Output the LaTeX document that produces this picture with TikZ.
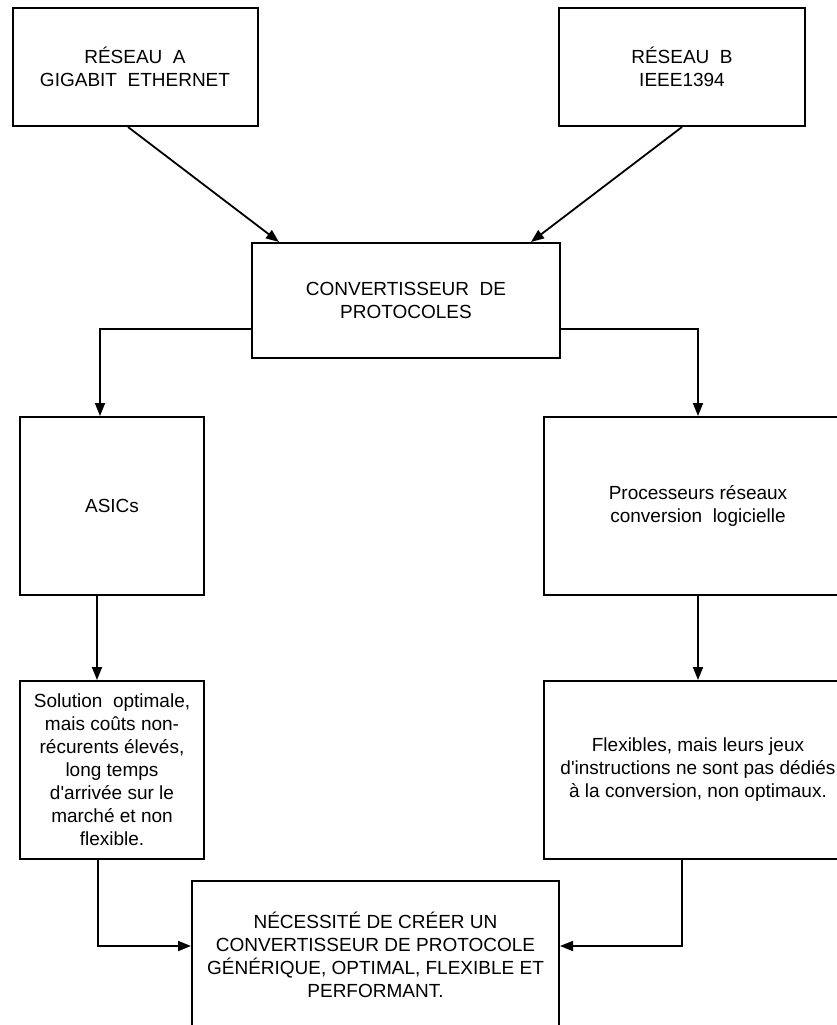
\documentclass[tikz,border=0pt]{standalone}
\usepackage{fontspec}
\setmainfont{Liberation Sans}
\usetikzlibrary{arrows.meta}
\begin{document}
\begin{tikzpicture}[x=1pt,y=-1pt,>={Triangle[length=13pt,width=10pt]},
  boite/.style={draw,line width=2pt,align=center,inner sep=0pt,
    font=\fontsize{19}{23}\selectfont},
  fleche/.style={->,line width=1.8pt}]
  \useasboundingbox (0,0) rectangle (837,1025);
  \clip (0,0) rectangle (837,1025);
  % reseaux
  \node[boite,minimum width=245pt,minimum height=118pt] (reseauA) at (135,67)
    {RÉSEAU~~A\\GIGABIT~~ETHERNET};
  \node[boite,minimum width=246pt,minimum height=118pt] (reseauB) at (682,67)
    {RÉSEAU~~B\\IEEE1394};
  % convertisseur
  \node[boite,minimum width=308pt,minimum height=115pt] (conv) at (406,300.5)
    {CONVERTISSEUR~~DE\\PROTOCOLES};
  % deux solutions
  \node[boite,minimum width=184pt,minimum height=178pt] (asics) at (112,506) {ASICs};
  \node[boite,minimum width=308pt,minimum height=178pt] (proc) at (698,506)
    {Processeurs réseaux\\conversion~~logicielle};
  % inconvenients
  \node[boite,minimum width=184pt,minimum height=178pt] (sol) at (112,770)
    {Solution~~optimale,\\mais coûts non-\\récurents élevés,\\long temps\\
     d\textquotesingle arrivée sur le\\marché et non\\flexible.};
  \node[boite,minimum width=308pt,minimum height=178pt] (flex) at (698,770)
    {Flexibles, mais leurs jeux\\d\textquotesingle instructions ne sont pas dédiés\\
     à la conversion, non optimaux.};
  % conclusion
  \node[boite,minimum width=367pt,minimum height=148pt] (besoin) at (375.5,955)
    {NÉCESSITÉ DE CRÉER UN\\CONVERTISSEUR DE PROTOCOLE\\
     GÉNÉRIQUE, OPTIMAL, FLEXIBLE ET\\PERFORMANT.};
  % fleches
  \draw[fleche] ([xshift=-7pt]reseauA.south) -- ([xshift=28pt]conv.north west);
  \draw[fleche] (reseauB.south) -- ([xshift=-30pt]conv.north east);
  \draw[fleche] ([yshift=-28.5pt]conv.west) -| ([xshift=-12pt]asics.north);
  \draw[fleche] ([yshift=-28.5pt]conv.east) -| (proc.north);
  \draw[fleche] ([xshift=-15pt]asics.south) -- ([xshift=-15pt]sol.north);
  \draw[fleche] (proc.south) -- (flex.north);
  \draw[fleche] ([xshift=-14pt]sol.south) |- ([yshift=9pt]besoin.west);
  \draw[fleche] ([xshift=-16pt]flex.south) |- ([yshift=9pt]besoin.east);
\end{tikzpicture}
\end{document}
